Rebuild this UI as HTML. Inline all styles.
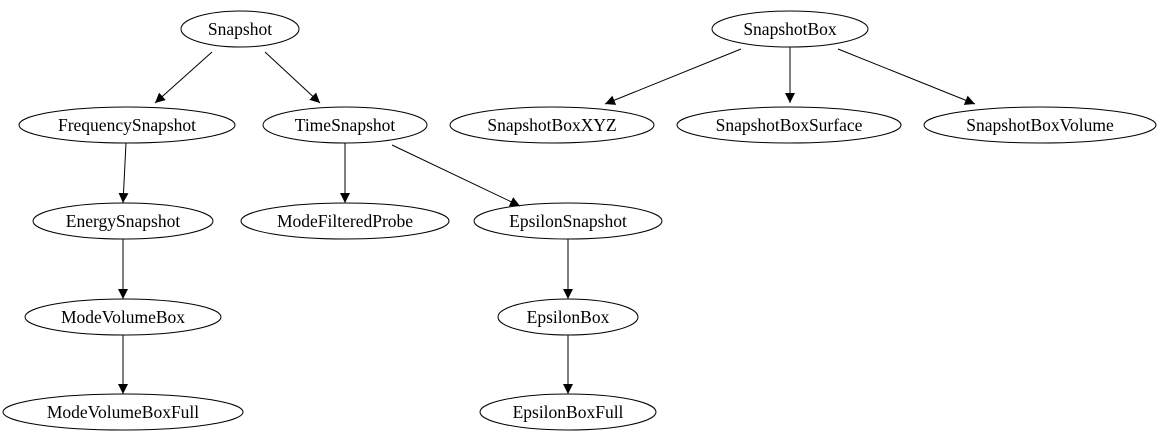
<!DOCTYPE html>
<html><head><style>html,body{margin:0;padding:0;background:#fff}svg{display:block}</style></head>
<body>
<svg width="1162" height="443" viewBox="0 0 1162 443" xmlns="http://www.w3.org/2000/svg" font-family="Liberation Serif, serif" font-size="17.5">
<defs>
<marker id="a" markerUnits="userSpaceOnUse" markerWidth="12" markerHeight="10" refX="10" refY="5" orient="auto">
<path d="M0,0 L10,5 L0,10 z" fill="#000"/>
</marker>
</defs>
<g stroke="#000" stroke-width="1" fill="none" marker-end="url(#a)">
<line x1="212" y1="52" x2="155" y2="103"/>
<line x1="265" y1="52" x2="320" y2="103"/>
<line x1="126" y1="143" x2="123" y2="203"/>
<line x1="345" y1="143" x2="345" y2="203"/>
<line x1="392" y1="145" x2="520" y2="206"/>
<line x1="123" y1="239" x2="123" y2="299"/>
<line x1="123" y1="335" x2="123" y2="394"/>
<line x1="568" y1="239" x2="568" y2="299"/>
<line x1="568" y1="335" x2="568" y2="394"/>
<line x1="741" y1="49" x2="605" y2="104"/>
<line x1="790" y1="47" x2="790" y2="103"/>
<line x1="838" y1="49" x2="975" y2="104"/>
</g>
<g stroke="#000" stroke-width="1" fill="none">
<ellipse cx="240" cy="29" rx="59" ry="18"/>
<ellipse cx="127" cy="125" rx="108" ry="18"/>
<ellipse cx="345" cy="125" rx="82" ry="18"/>
<ellipse cx="123" cy="221" rx="90" ry="18"/>
<ellipse cx="345" cy="221" rx="104" ry="18"/>
<ellipse cx="568" cy="221" rx="94" ry="18"/>
<ellipse cx="123" cy="317" rx="98" ry="18"/>
<ellipse cx="568" cy="317" rx="70" ry="18"/>
<ellipse cx="123" cy="412" rx="120" ry="18"/>
<ellipse cx="568" cy="412" rx="88" ry="18"/>
<ellipse cx="790" cy="29" rx="78" ry="18"/>
<ellipse cx="552" cy="125" rx="102" ry="18"/>
<ellipse cx="789" cy="125" rx="112" ry="18"/>
<ellipse cx="1040" cy="125" rx="116" ry="18"/>
</g>
<g text-anchor="middle" fill="#000">
<text x="240" y="35">Snapshot</text>
<text x="127" y="131">FrequencySnapshot</text>
<text x="345" y="131">TimeSnapshot</text>
<text x="123" y="227">EnergySnapshot</text>
<text x="345" y="227">ModeFilteredProbe</text>
<text x="568" y="227">EpsilonSnapshot</text>
<text x="123" y="323">ModeVolumeBox</text>
<text x="568" y="323">EpsilonBox</text>
<text x="123" y="418">ModeVolumeBoxFull</text>
<text x="568" y="418">EpsilonBoxFull</text>
<text x="790" y="35">SnapshotBox</text>
<text x="552" y="131">SnapshotBoxXYZ</text>
<text x="789" y="131">SnapshotBoxSurface</text>
<text x="1040" y="131">SnapshotBoxVolume</text>
</g>
</svg>
</body></html>
